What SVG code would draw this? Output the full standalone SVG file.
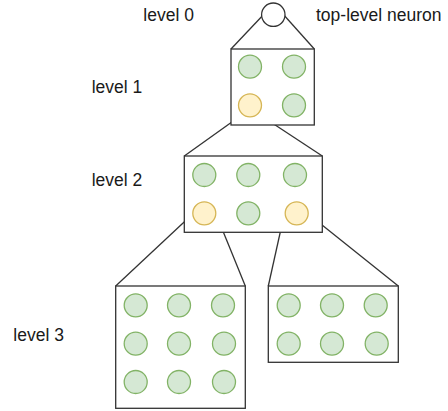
<svg xmlns="http://www.w3.org/2000/svg" width="448" height="411" viewBox="0 0 448 411">
  <style>
    .label { font-family: "Liberation Sans", Arial, sans-serif; font-size: 17.5px; fill: #1a1a1a; }
    .box { fill: #ffffff; stroke: #333333; stroke-width: 1.3; }
    .n { stroke-width: 1.3; }
    .g { fill: #d5e8d4; stroke: #82b366; }
    .y { fill: #fff2cc; stroke: #d6b656; }
    .top { fill: #ffffff; stroke: #333333; stroke-width: 1.3; }
    .edge { stroke: #333333; stroke-width: 1.3; fill: none; }
  </style>
  <rect width="448" height="411" fill="#ffffff"/>

  <!-- labels -->
  <text class="label" x="143.3" y="20.7">level 0</text>
  <text class="label" x="316" y="20.7">top-level neuron</text>
  <text class="label" x="91.7" y="93.3">level 1</text>
  <text class="label" x="91.7" y="186">level 2</text>
  <text class="label" x="13.3" y="340.7">level 3</text>

  <!-- expansion connectors -->
  <g id="connectors">
    <line class="edge" x1="262.7" y1="15.5" x2="231" y2="49"/>
    <line class="edge" x1="284.3" y1="15.5" x2="314.3" y2="49"/>
    <line class="edge" x1="241.7" y1="115" x2="184.3" y2="156"/>
    <line class="edge" x1="260" y1="115" x2="322.3" y2="156"/>
    <line class="edge" x1="192.7" y1="214" x2="115.7" y2="286"/>
    <line class="edge" x1="216" y1="214" x2="245.3" y2="286"/>
    <line class="edge" x1="284.3" y1="214" x2="268.3" y2="286"/>
    <line class="edge" x1="308.3" y1="214" x2="398.3" y2="286"/>
  </g>

  <!-- level 0 -->
  <g id="top-neuron">
    <circle class="top" cx="273.3" cy="14.7" r="11.7"/>
  </g>

  <!-- level 1 -->
  <g id="level1">
    <rect class="box" x="231" y="49" width="83.3" height="76"/>
    <circle class="n g" cx="250" cy="66.7" r="11.5"/>
    <circle class="n g" cx="294" cy="66.7" r="11.5"/>
    <circle class="n y" cx="250" cy="105.3" r="11.5"/>
    <circle class="n g" cx="294" cy="105.3" r="11.5"/>
  </g>

  <!-- level 2 -->
  <g id="level2">
    <rect class="box" x="184.3" y="156" width="138" height="76.3"/>
    <circle class="n g" cx="204.3" cy="175" r="11.5"/>
    <circle class="n g" cx="248.3" cy="175" r="11.5"/>
    <circle class="n g" cx="295" cy="175" r="11.5"/>
    <circle class="n y" cx="204.3" cy="213.3" r="11.5"/>
    <circle class="n g" cx="248.3" cy="213.3" r="11.5"/>
    <circle class="n y" cx="296.7" cy="213.3" r="11.5"/>
  </g>

  <!-- level 3, left block -->
  <g id="level3-left">
    <rect class="box" x="115.7" y="286" width="129.6" height="122.3"/>
    <circle class="n g" cx="135.7" cy="305.3" r="11.5"/>
    <circle class="n g" cx="179" cy="305.3" r="11.5"/>
    <circle class="n g" cx="223" cy="305.3" r="11.5"/>
    <circle class="n g" cx="135.7" cy="343.7" r="11.5"/>
    <circle class="n g" cx="179" cy="343.7" r="11.5"/>
    <circle class="n g" cx="224" cy="343.7" r="11.5"/>
    <circle class="n g" cx="135.7" cy="382" r="11.5"/>
    <circle class="n g" cx="179" cy="382" r="11.5"/>
    <circle class="n g" cx="224" cy="382" r="11.5"/>
  </g>

  <!-- level 3, right block -->
  <g id="level3-right">
    <rect class="box" x="268.3" y="286" width="130" height="76.3"/>
    <circle class="n g" cx="288.7" cy="305.3" r="11.5"/>
    <circle class="n g" cx="332" cy="305.3" r="11.5"/>
    <circle class="n g" cx="375.7" cy="305.3" r="11.5"/>
    <circle class="n g" cx="288.7" cy="343.7" r="11.5"/>
    <circle class="n g" cx="332" cy="343.7" r="11.5"/>
    <circle class="n g" cx="376.7" cy="343.7" r="11.5"/>
  </g>
</svg>
